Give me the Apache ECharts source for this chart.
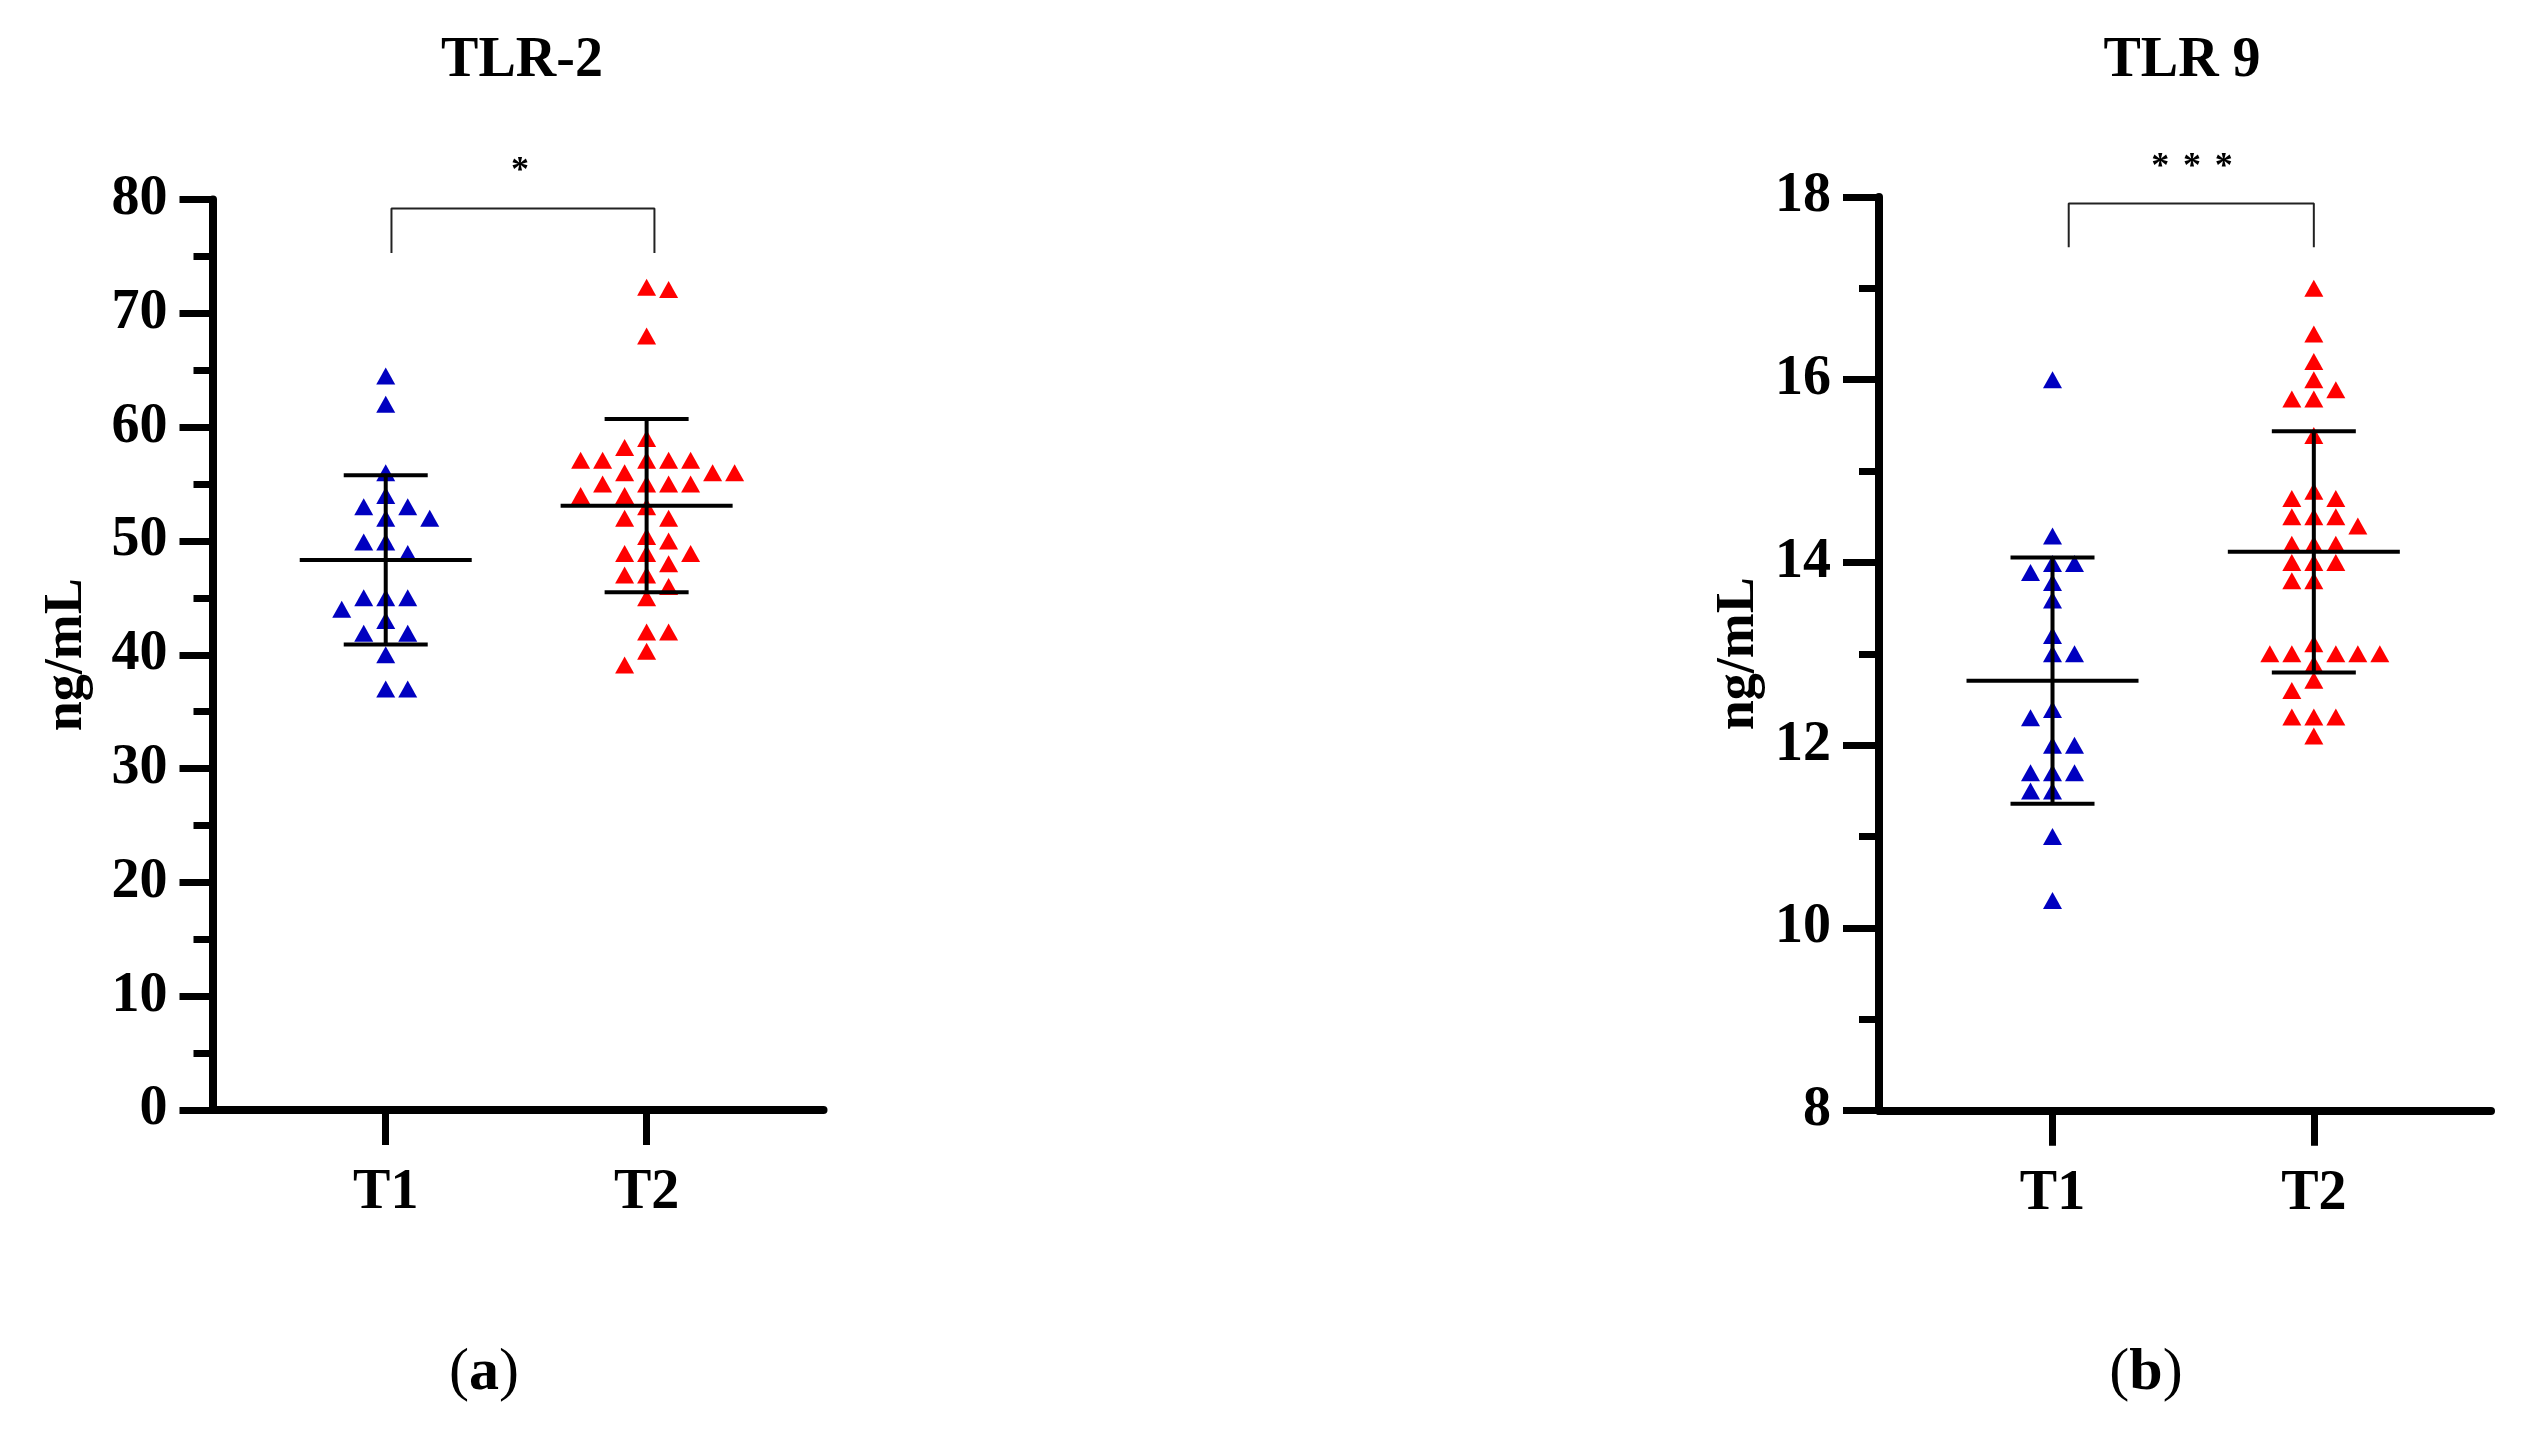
<!DOCTYPE html>
<html>
<head>
<meta charset="utf-8">
<title>TLR-2 / TLR 9</title>
<script src="https://cdn.jsdelivr.net/npm/echarts@6/dist/echarts.min.js"></script>
<style>
    html, body { margin: 0; padding: 0; background: #fff; }
    #chart { width: 2529px; height: 1438px; }
</style>
</head>
<body>
<div id="chart"></div>
<script>
    // groups on the x axis
    var groups = ['T1', 'T2'];

    // panel (a) TLR-2, ng/mL
    var tlr2T1 = [64.5, 62.0, 56.0, 54.0, 53.0, 53.0, 52.0, 52.0, 49.9, 49.9, 48.9,
        45.0, 45.0, 45.0, 44.0, 43.0, 41.9, 41.9, 40.0, 37.0, 37.0];
    var tlr2T2 = [72.1, 72.3, 68.0, 59.0, 58.2, 57.1, 57.1, 57.1, 57.1, 57.1, 56.0, 56.0,
        56.0, 55.0, 55.0, 55.0, 55.0, 54.0, 54.0, 53.0, 52.0, 52.0, 50.4, 50.0, 48.9,
        48.9, 48.9, 48.0, 47.0, 47.0, 46.0, 45.0, 42.0, 42.0, 40.3, 39.1];
    var tlr2Ticks = [0, 10, 20, 30, 40, 50, 60, 70, 80];

    // panel (b) TLR 9, ng/mL
    var tlr9T1 = [16.0, 14.29, 13.99, 13.99, 13.89, 13.78, 13.59, 13.2, 13.0, 13.0, 12.39,
        12.3, 12.0, 12.0, 11.7, 11.7, 11.7, 11.5, 11.5, 11.0, 10.3];
    var tlr9T2 = [17.0, 16.5, 16.2, 16.0, 15.89, 15.79, 15.79, 15.39, 14.78, 14.7, 14.7,
        14.5, 14.5, 14.5, 14.4, 14.2, 14.2, 14.2, 14.0, 14.0, 14.0, 13.8, 13.8, 13.11,
        13.0, 13.0, 13.0, 13.0, 13.0, 12.89, 12.71, 12.6, 12.31, 12.31, 12.31, 12.1];
    var tlr9Ticks = [8, 10, 12, 14, 16, 18];

    var signifA = '*';
    var signifB = '***';

    // ---- layout / style ----
    var FONT = "'Liberation Serif', 'Times New Roman', serif";
    var BLUE = '#0000c0', RED = '#ff0000';
    var XMIN = 0.336, XMAX = 2.678;
    var panels = [
        {left: 212.5, top: 199.5, width: 611, height: 910.5, name: 'TLR-2', title: [522, 62],
            stars: [520, 172], bracket: [1.022, 2.03, 75.3, 79.2], nameGap: 118, tick: 33, minor: 19,
            label: ['a', 484, 1373], t1: tlr2T1, t2: tlr2T2, ticks: tlr2Ticks, interval: 10},
        {left: 1879, top: 197, width: 612, height: 913.7, name: 'TLR 9', title: [2182, 62],
            stars: [2192, 168], bracket: [1.062, 2.0, 17.45, 17.93], nameGap: 113, tick: 36, minor: 20,
            label: ['b', 2146, 1373], t1: tlr9T1, t2: tlr9T2, ticks: tlr9Ticks, interval: 2}
    ];

    function mean(a) { return a.reduce(function (s, v) { return s + v; }, 0) / a.length; }
    function sd(a) {
        var m = mean(a);
        return Math.sqrt(a.reduce(function (s, v) { return s + (v - m) * (v - m); }, 0) / (a.length - 1));
    }

    // simple beeswarm: horizontal offsets (px) so triangles do not overlap
    function swarm(vals, pxPerY) {
        var step = 11, minDx = 20, minDy = 16;
        var order = vals.map(function (v, i) { return i; }).sort(function (a, b) { return vals[b] - vals[a]; });
        var placed = [], off = [], flip = false;
        order.forEach(function (i) {
            var y = vals[i] * pxPerY;
            for (var k = 0; k < 50; k++) {
                var cands = k === 0 ? [0] : (flip ? [-k * step, k * step] : [k * step, -k * step]);
                var hit = null;
                for (var c = 0; c < cands.length; c++) {
                    var x = cands[c];
                    var ok = placed.every(function (p) {
                        return Math.abs(p.x - x) >= minDx || Math.abs(p.y - y) >= minDy;
                    });
                    if (ok) { hit = x; break; }
                }
                if (hit !== null) {
                    off[i] = hit;
                    placed.push({x: hit, y: y});
                    if (hit !== 0) flip = !flip;
                    break;
                }
            }
        });
        return off;
    }

    var option = {
        animation: false,
        backgroundColor: '#fff',
        grid: [], xAxis: [], yAxis: [], series: [], graphic: []
    };

    panels.forEach(function (p, gi) {
        var ymin = p.ticks[0], ymax = p.ticks[p.ticks.length - 1];
        var pxPerY = p.height / (ymax - ymin);
        var pxPerX = p.width / (XMAX - XMIN);

        option.grid.push({left: p.left, top: p.top, width: p.width, height: p.height, outerBoundsMode: 'none'});
        option.xAxis.push({
            type: 'value', gridIndex: gi, min: XMIN, max: XMAX,
            axisLine: {show: true, onZero: false, lineStyle: {color: '#000', width: 8}},
            axisTick: {show: true, customValues: [1, 2], length: 35, lineStyle: {color: '#000', width: 7}},
            axisLabel: {
                show: true, customValues: [1, 2], margin: 56,
                fontFamily: FONT, fontWeight: 'bold', fontSize: 56, color: '#000',
                formatter: function (v) { return groups[Math.round(v) - 1] || ''; }
            },
            splitLine: {show: false}
        });
        option.yAxis.push({
            type: 'value', gridIndex: gi, min: ymin, max: ymax, interval: p.interval,
            name: 'ng/mL', nameLocation: 'middle', nameGap: p.nameGap, nameRotate: 90,
            nameTextStyle: {fontFamily: FONT, fontWeight: 'bold', fontSize: 54, color: '#000'},
            axisLine: {show: true, onZero: false, lineStyle: {color: '#000', width: 8}},
            axisTick: {show: true, length: p.tick, lineStyle: {color: '#000', width: 7}},
            minorTick: {show: true, splitNumber: 2, length: p.minor, lineStyle: {color: '#000', width: 7}},
            axisLabel: {margin: p.tick + 12, fontFamily: FONT, fontWeight: 'bold', fontSize: 56, color: '#000'},
            splitLine: {show: false}
        });

        [p.t1, p.t2].forEach(function (vals, k) {
            var off = swarm(vals, pxPerY);
            option.series.push({
                type: 'scatter', xAxisIndex: gi, yAxisIndex: gi, silent: true, z: 2,
                symbol: 'triangle', symbolSize: [19, 17],
                itemStyle: {color: k === 0 ? BLUE : RED, opacity: 1},
                data: vals.map(function (v, i) { return [k + 1 + off[i] / pxPerX, v]; })
            });
        });

        // mean +/- SD
        option.series.push({
            type: 'custom', xAxisIndex: gi, yAxisIndex: gi, silent: true, z: 5,
            data: [p.t1, p.t2].map(function (vals, k) {
                var m = mean(vals), s = sd(vals);
                return [k + 1, m, m - s, m + s];
            }),
            renderItem: function (params, api) {
                var pm = api.coord([api.value(0), api.value(1)]);
                var pl = api.coord([api.value(0), api.value(2)]);
                var ph = api.coord([api.value(0), api.value(3)]);
                var st = {stroke: '#000', lineWidth: 4};
                function seg(x1, y1, x2, y2) { return {type: 'line', shape: {x1: x1, y1: y1, x2: x2, y2: y2}, style: st}; }
                return {type: 'group', children: [
                    seg(pm[0] - 86, pm[1], pm[0] + 86, pm[1]),
                    seg(pl[0], pl[1], ph[0], ph[1]),
                    seg(pl[0] - 42, pl[1], pl[0] + 42, pl[1]),
                    seg(ph[0] - 42, ph[1], ph[0] + 42, ph[1])
                ]};
            }
        });

        // significance bracket
        var b = p.bracket;
        option.series.push({
            type: 'line', xAxisIndex: gi, yAxisIndex: gi, silent: true, z: 4,
            symbol: 'none', lineStyle: {color: '#222', width: 2},
            data: [[b[0], b[2]], [b[0], b[3]], [b[1], b[3]], [b[1], b[2]]]
        });

        option.graphic.push({
            type: 'text', left: 'auto', x: p.title[0], y: p.title[1],
            style: {text: p.name, fontFamily: FONT, fontWeight: 'bold', fontSize: 56, fill: '#000',
                align: 'center', verticalAlign: 'middle'}
        });
        var stars = gi === 0 ? signifA : signifB;
        for (var si = 0; si < stars.length; si++) {
            option.graphic.push({
                type: 'text', x: p.stars[0] + (si - (stars.length - 1) / 2) * 31.7, y: p.stars[1],
                style: {text: '*', fontFamily: FONT, fontWeight: 'bold', fontSize: 36, fill: '#000',
                    align: 'center', verticalAlign: 'middle'}
            });
        }
        option.graphic.push({
            type: 'text', x: p.label[1], y: p.label[2],
            style: {
                text: '{p|(}{l|' + p.label[0] + '}{p|)}', align: 'center', verticalAlign: 'middle',
                rich: {
                    p: {fontFamily: FONT, fontSize: 60, fill: '#000'},
                    l: {fontFamily: FONT, fontSize: 60, fontWeight: 'bold', fill: '#000'}
                }
            }
        });
    });

    var chart = echarts.init(document.getElementById('chart'), null, {renderer: 'canvas'});
    chart.setOption(option);
</script>
</body>
</html>
